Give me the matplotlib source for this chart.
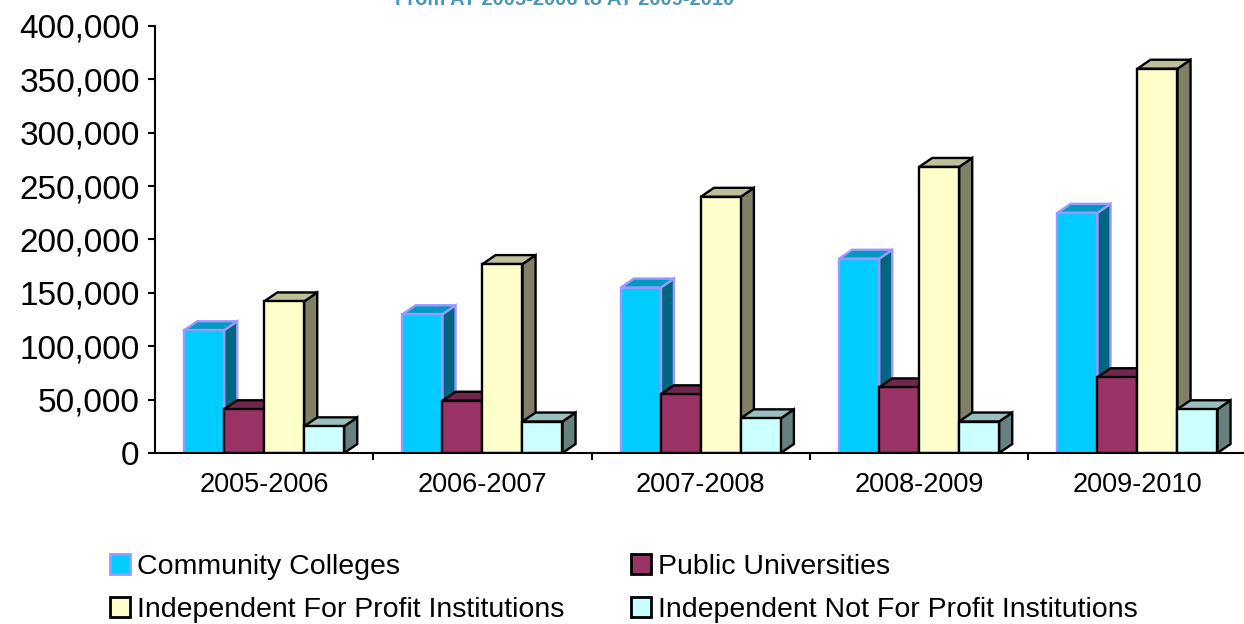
import numpy as np
import matplotlib
matplotlib.use("Agg")
import matplotlib.pyplot as plt
from matplotlib.patches import Polygon, Patch
from matplotlib.ticker import FuncFormatter, FixedLocator

plt.rcParams['font.family'] = ['Liberation Sans', 'DejaVu Sans']

years = ["2005-2006", "2006-2007", "2007-2008", "2008-2009", "2009-2010"]
series_names = ["Community Colleges", "Public Universities",
                "Independent For Profit Institutions", "Independent Not For Profit Institutions"]
community = [115000, 130000, 155000, 182000, 225000]
public_univ = [41000, 49000, 55000, 61500, 71000]
for_profit = [142000, 177000, 240000, 268000, 360000]
not_for_profit = [25000, 29500, 32500, 29500, 41000]
yticks = [0, 50000, 100000, 150000, 200000, 250000, 300000, 350000, 400000]

# front, top, side colours + edge colour for each series
styles = [
    ("#00CCFF", "#0099BF", "#006680", "#9999FF"),
    ("#993366", "#73264D", "#4D1A33", "black"),
    ("#FFFFCC", "#BFBF99", "#808066", "black"),
    ("#CCFFFF", "#99BFBF", "#668080", "black"),
]

fig = plt.figure(figsize=(12.44, 6.24), dpi=100)
ax = fig.add_axes([155 / 1244, 171 / 624, 1 - 155 / 1244, 427 / 624])

w = 0.1832        # bar width in category units
dx = 0.06         # depth offset (x, category units)
dy = 8400         # depth offset (y, data units)
lw = 1.7

x = np.arange(len(years))
all_series = [community, public_univ, for_profit, not_for_profit]
for i in range(len(years)):
    for k, vals in enumerate(all_series):
        front, top, side, edge = styles[k]
        x0 = x[i] + (k - 2) * w
        x1 = x0 + w
        v = vals[i]
        ax.add_patch(Polygon([(x1, 0), (x1 + dx, dy), (x1 + dx, v + dy), (x1, v)],
                             closed=True, facecolor=side, edgecolor=edge, lw=lw, joinstyle='miter'))
        ax.add_patch(Polygon([(x0, v), (x1, v), (x1 + dx, v + dy), (x0 + dx, v + dy)],
                             closed=True, facecolor=top, edgecolor=edge, lw=lw, joinstyle='miter'))
        ax.bar(x0, v, width=w, align='edge', color=front, edgecolor=edge, linewidth=lw)

ax.set_xlim(-0.5, 4.488)
ax.set_ylim(0, 400000)
ax.spines['top'].set_visible(False)
ax.spines['right'].set_visible(False)
for s in ('left', 'bottom'):
    ax.spines[s].set_linewidth(1.5)

ax.set_yticks(yticks)
ax.yaxis.set_major_formatter(FuncFormatter(lambda v, p: f"{int(v):,}"))
ax.tick_params(axis='y', direction='out', length=5, width=1.5, pad=6, labelsize=24)

ax.set_xticks(x)
ax.set_xticklabels(years)
ax.xaxis.set_minor_locator(FixedLocator([0.5, 1.5, 2.5, 3.5]))
ax.tick_params(axis='x', which='major', length=0, pad=14, labelsize=19.5)
ax.tick_params(axis='x', which='minor', direction='out', length=5, width=1.5)

# legend fills column-wise, so order entries to read row by row
order = [0, 2, 1, 3]
handles = [Patch(facecolor=styles[k][0], edgecolor=styles[k][3], linewidth=2) for k in order]
labels = [series_names[k] for k in order]
fig.legend(handles, labels, ncol=2, loc='upper left',
           bbox_to_anchor=(110 / 1244, 1 - 554 / 624), frameon=False,
           fontsize=20.5, handlelength=0.7, handleheight=0.7,
           handletextpad=0.25, columnspacing=2.35, labelspacing=0.6,
           borderpad=0, borderaxespad=0)

fig.text(565 / 1244, 1 - 5 / 624, "From AY 2005-2006 to AY 2009-2010",
         ha='center', va='baseline', color='#4A96B4', fontsize=14.5, fontweight='bold')

fig.savefig("out.png", dpi=100)
